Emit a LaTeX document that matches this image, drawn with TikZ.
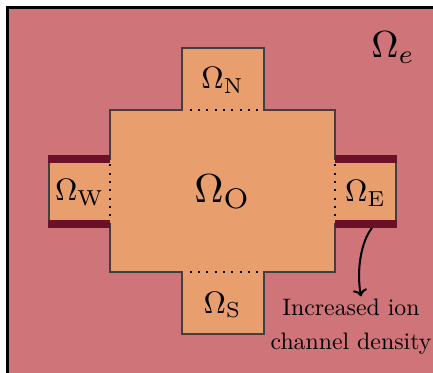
\documentclass[tikz,border=0pt]{standalone}
\usetikzlibrary{arrows.meta}
\definecolor{extracell}{RGB}{207,116,121}
\definecolor{cellfill}{RGB}{233,158,110}
\definecolor{channelred}{RGB}{106,17,41}
\definecolor{edgegray}{RGB}{64,64,64}
\tikzset{
  cellborder/.style={draw=edgegray, line width=0.84pt, fill=cellfill, line join=miter},
  channelbar/.style={draw=channelred, line width=3.36pt, line cap=butt},
  interface/.style={draw=black, line width=0.84pt, dash pattern=on 0.84pt off 2.66pt},
  domlabel/.style={inner sep=0pt, anchor=base},
}
\begin{document}
\begin{tikzpicture}[x=0.42pt, y=-0.42pt]
  \clip (0,0) rectangle (433,373);
  \fill[white] (0,0) rectangle (433,373);
  % extracellular space
  \draw[line width=1.5pt, fill=extracell] (7.7,7.5) rectangle (470,410);

  % cell: centre block with four arms
  \path[cellborder] (110,110) -- (182,110) -- (182,48.5) -- (264,48.5) -- (264,110)
    -- (335,110) -- (335,159) -- (396,159) -- (396,224) -- (335,224)
    -- (335,272.5) -- (264,272.5) -- (264,334) -- (182,334) -- (182,272.5)
    -- (110,272.5) -- (110,224) -- (49,224) -- (49,159) -- (110,159) -- cycle;

  % ends with increased ion channel density
  \draw[channelbar] (48,159) -- (110,159);
  \draw[channelbar] (48,224) -- (110,224);
  \draw[channelbar] (335,159) -- (397,159);
  \draw[channelbar] (335,224) -- (397,224);

  % internal interfaces
  \draw[interface] (189.5,110) -- (264,110);
  \draw[interface] (189.5,272.5) -- (264,272.5);
  \draw[interface] (110,164.5) -- (110,222);
  \draw[interface] (335,164.5) -- (335,222);

  % domain labels
  \node[domlabel, scale=1.3] (omN) at (222.5,89) {$\Omega_{\mathrm{N}}$};
  \node[domlabel, scale=1.7] (omO) at (222.5,202.7) {$\Omega_{\mathrm{O}}$};
  \node[domlabel, scale=1.3] (omW) at (79.7,200.7) {$\Omega_{\mathrm{W}}$};
  \node[domlabel, scale=1.3] (omE) at (365.5,201.7) {$\Omega_{\mathrm{E}}$};
  \node[domlabel, scale=1.3] (omS) at (222.5,313.3) {$\Omega_{\mathrm{S}}$};
  \node[domlabel, scale=1.58] (ome) at (393,58) {$\Omega_e$};

  % annotation
  \node[align=center, inner sep=0pt, font=\fontsize{10}{14.3}\selectfont] (note) at (351,327)
    {Increased ion\\channel density};
  \coordinate (ebar) at (372,228);
  \draw[line width=0.84pt, -{To[length=3pt, width=6pt]}] (ebar)
    .. controls (362,240) and (356,268) .. ([xshift=4.2pt, yshift=1pt]note.north);
\end{tikzpicture}
\end{document}
